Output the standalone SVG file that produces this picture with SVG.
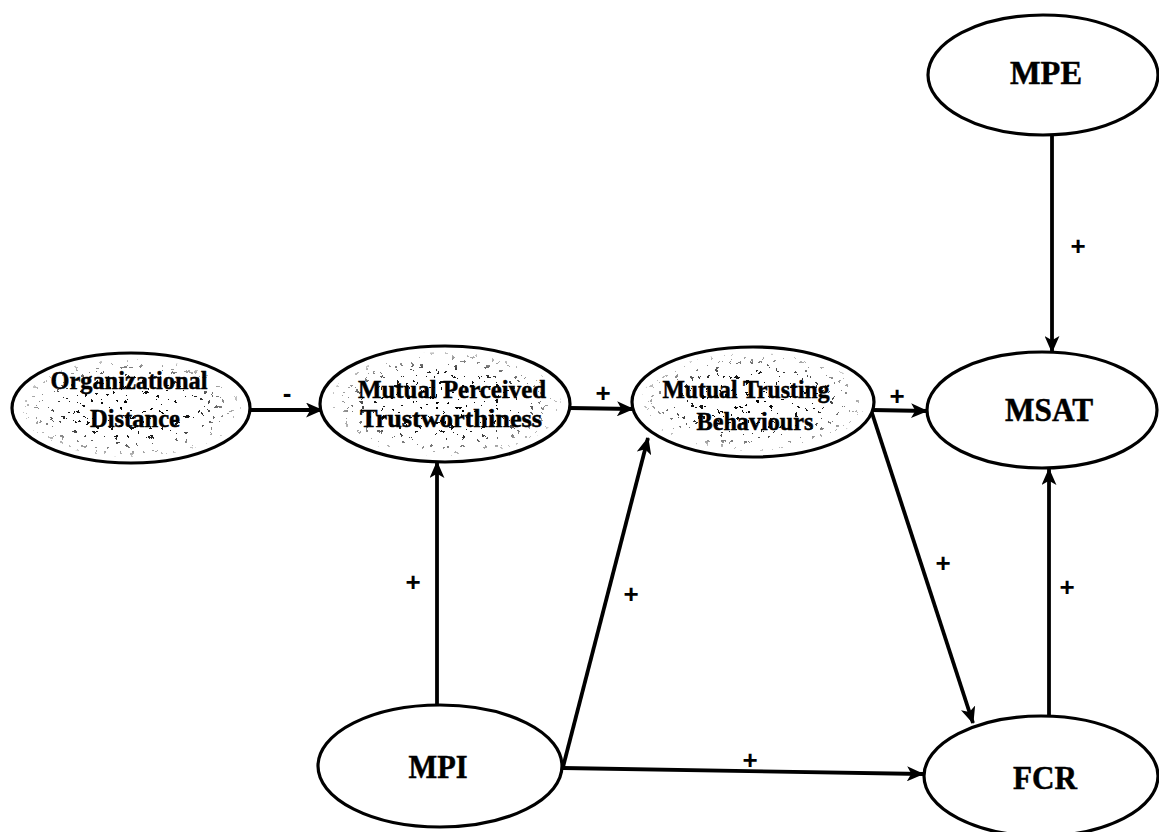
<svg xmlns="http://www.w3.org/2000/svg" width="1159" height="832" viewBox="0 0 1159 832">
  <style>
    .node { fill: #ffffff; stroke: #000000; stroke-width: 3.2; }
    .lbl { font-family: "Liberation Serif", "Times New Roman", serif; font-weight: bold; fill: #000000; stroke: #000000; stroke-width: 0.5; text-anchor: middle; }
    .big { font-size: 33px; }
    .small { font-size: 26px; }
    .edge { fill: none; stroke: #000000; stroke-width: 3.8; marker-end: url(#arrow); }
    .sign { font-family: "Liberation Sans", Arial, sans-serif; font-weight: bold; font-size: 26px; fill: #000000; text-anchor: middle; }
  </style>
  <defs>
    <marker id="arrow" viewBox="0 0 16 14" refX="15" refY="7" markerWidth="17" markerHeight="15" markerUnits="userSpaceOnUse" orient="auto">
      <path d="M0,0 L16,7 L0,14 L4,7 Z" fill="#000000"/>
    </marker>
    <!-- grainy stipple texture: sparse dark clumps -->
    <filter id="speckle" x="0" y="0" width="100%" height="100%" color-interpolation-filters="sRGB">
      <feTurbulence type="fractalNoise" baseFrequency="0.2" numOctaves="3" seed="11" result="n"/>
      <feColorMatrix in="n" type="matrix" values="0 0 0 0 0  0 0 0 0 0  0 0 0 0 0  2.2 0 0 0 -0.7"/>
      <feComponentTransfer>
        <feFuncA type="discrete" tableValues="0 0 0 0 0 0 0 0 0 0 0 1 1"/>
      </feComponentTransfer>
    </filter>
    <radialGradient id="fade" cx="0.5" cy="0.5" r="0.5">
      <stop offset="0" stop-color="#ffffff" stop-opacity="1"/>
      <stop offset="0.6" stop-color="#ffffff" stop-opacity="0.9"/>
      <stop offset="1" stop-color="#ffffff" stop-opacity="0.2"/>
    </radialGradient>
    <mask id="mOD" maskUnits="userSpaceOnUse" x="0" y="340" width="270" height="140">
      <ellipse cx="131" cy="408" rx="110" ry="49" fill="url(#fade)"/>
    </mask>
    <mask id="mMPT" maskUnits="userSpaceOnUse" x="310" y="340" width="270" height="140">
      <ellipse cx="445" cy="404" rx="116" ry="52" fill="url(#fade)"/>
    </mask>
    <mask id="mMTB" maskUnits="userSpaceOnUse" x="620" y="340" width="270" height="140">
      <ellipse cx="753" cy="402" rx="112" ry="49" fill="url(#fade)"/>
    </mask>
  </defs>

  <rect width="1159" height="832" fill="#ffffff"/>

  <!-- connectors -->
  <g id="connectors">
    <line class="edge" x1="251" y1="410" x2="322" y2="410"/>
    <line class="edge" x1="570" y1="408" x2="633" y2="409"/>
    <line class="edge" x1="872" y1="410" x2="927" y2="411"/>
    <line class="edge" x1="1052" y1="136" x2="1052" y2="352"/>
    <line class="edge" x1="437" y1="706" x2="437" y2="462"/>
    <line class="edge" x1="563" y1="767" x2="648" y2="438"/>
    <line class="edge" x1="563" y1="768" x2="923" y2="774"/>
    <line class="edge" x1="871" y1="410" x2="973" y2="723"/>
    <line class="edge" x1="1049" y1="716" x2="1049" y2="469"/>
    <text class="sign" x="287" y="402">-</text>
    <text class="sign" x="603" y="402">+</text>
    <text class="sign" x="897" y="405">+</text>
    <text class="sign" x="1078" y="255">+</text>
    <text class="sign" x="413" y="591">+</text>
    <text class="sign" x="631" y="603">+</text>
    <text class="sign" x="943" y="572">+</text>
    <text class="sign" x="1067" y="596">+</text>
    <text class="sign" x="750" y="769">+</text>
  </g>

  <g id="node-od">
    <ellipse class="node" cx="131" cy="408" rx="119" ry="55"/>
    <rect x="12" y="353" width="238" height="110" fill="#000" filter="url(#speckle)" mask="url(#mOD)"/>
    <text class="lbl small" x="129" y="389" textLength="157" lengthAdjust="spacingAndGlyphs">Organizational</text>
    <text class="lbl small" x="135" y="427" textLength="90" lengthAdjust="spacingAndGlyphs">Distance</text>
  </g>

  <g id="node-mpt">
    <ellipse class="node" cx="445" cy="404" rx="125" ry="58"/>
    <rect x="320" y="346" width="250" height="116" fill="#000" filter="url(#speckle)" mask="url(#mMPT)"/>
    <text class="lbl small" x="452" y="398" textLength="188" lengthAdjust="spacingAndGlyphs">Mutual Perceived</text>
    <text class="lbl small" x="451" y="427" textLength="182" lengthAdjust="spacingAndGlyphs">Trustworthiness</text>
  </g>

  <g id="node-mtb">
    <ellipse class="node" cx="753" cy="402" rx="121" ry="55"/>
    <rect x="632" y="347" width="242" height="110" fill="#000" filter="url(#speckle)" mask="url(#mMTB)"/>
    <text class="lbl small" x="746" y="398" textLength="167" lengthAdjust="spacingAndGlyphs">Mutual Trusting</text>
    <text class="lbl small" x="755" y="430" textLength="117" lengthAdjust="spacingAndGlyphs">Behaviours</text>
  </g>

  <g id="node-mpe">
    <ellipse class="node" cx="1043" cy="75" rx="115" ry="60"/>
    <text class="lbl big" x="1046" y="84" textLength="72" lengthAdjust="spacingAndGlyphs">MPE</text>
  </g>

  <g id="node-msat">
    <ellipse class="node" cx="1042" cy="410" rx="115" ry="58"/>
    <text class="lbl big" x="1049" y="421" textLength="88" lengthAdjust="spacingAndGlyphs">MSAT</text>
  </g>

  <g id="node-mpi">
    <ellipse class="node" cx="440" cy="766" rx="122" ry="61"/>
    <text class="lbl big" x="438" y="778" textLength="59" lengthAdjust="spacingAndGlyphs">MPI</text>
  </g>

  <g id="node-fcr">
    <ellipse class="node" cx="1041" cy="776" rx="117" ry="60"/>
    <text class="lbl big" x="1045" y="789" textLength="64" lengthAdjust="spacingAndGlyphs">FCR</text>
  </g>
</svg>
